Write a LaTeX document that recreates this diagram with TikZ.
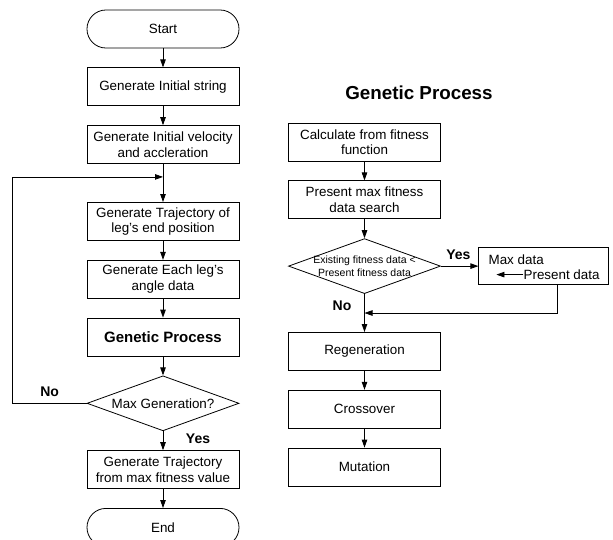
\documentclass[tikz,border=0pt]{standalone}
\usepackage{fontspec}
\setmainfont{Liberation Sans}
\usetikzlibrary{positioning,calc,arrows.meta,shapes,shapes.geometric}
\tikzset{fbox/.style={draw, line width=0.8pt, minimum width=152pt, minimum height=38pt, inner sep=2pt, align=center, font=\fontsize{13.4}{15.5}\selectfont}}
\tikzset{fterm/.style={fbox, rounded corners=18.9pt}}
\tikzset{fdec/.style={draw, line width=0.8pt, diamond, aspect=2.76, minimum width=152pt, minimum height=55pt, inner sep=0pt, align=center, font=\fontsize{13.4}{15.5}\selectfont}}
\tikzset{arr/.style={draw, line width=0.8pt, -{Triangle[length=8pt,width=5.5pt]}}}
\tikzset{lbl/.style={font=\fontsize{14}{16}\bfseries\selectfont, inner sep=0pt}}
\tikzset{txt/.style={font=\fontsize{13.4}{15.5}\selectfont, inner sep=0pt}}

\begin{document}
\begin{tikzpicture}[x=1pt, y=1pt, node distance=19pt]
\useasboundingbox (0,0) rectangle (613,-539);
% main loop
\node[fterm] (start) at (163,-29) {Start};
\node[fbox, below=of start] (initstr) {Generate Initial string};
\node[fbox, below=of initstr] (initvel) {Generate Initial velocity\\and accleration};
\node[fbox, below=38pt of initvel] (traj) {Generate Trajectory of\\leg's end position};
\node[fbox, below=of traj] (angle) {Generate Each leg's\\angle data};
\node[fbox, below=of angle, font=\fontsize{15}{17}\bfseries\selectfont] (gproc) {Genetic Process};
\node[fdec, below=of gproc] (maxgen) {Max Generation?};
\node[fbox, below=of maxgen] (best) {Generate Trajectory\\from max fitness value};
\node[fterm, below=of best] (fin) {End};
\coordinate (loopin) at ($(initvel.south)!0.34!(traj.north)$);
%
\draw[arr] (start) -- (initstr);
\draw[arr] (initstr) -- (initvel);
\draw[arr] (initvel) -- (traj);
\draw[arr] (traj) -- (angle);
\draw[arr] (angle) -- (gproc);
\draw[arr] (gproc) -- (maxgen);
\draw[arr] (maxgen) -- (best);
\draw[arr] (best) -- (fin);
\draw[arr] (maxgen.west) -- ++(-74pt,0) |- (loopin);
\node[lbl] (no1) at ($(maxgen.west)+(-37pt,12pt)$) {No};
\node[lbl] (yes1) at ($(maxgen.south)+(35pt,-8pt)$) {Yes};
% genetic process
\node[font=\fontsize{18.8}{21}\bfseries\selectfont] (gtitle) at (419,-93) {Genetic Process};
\node[fbox] (fitcalc) at (364.5,-142) {Calculate from fitness\\function};
\node[fbox, below=of fitcalc] (maxsearch) {Present max fitness\\data search};
\node[fdec, below=of maxsearch, inner sep=-3pt, font=\fontsize{10.5}{12.5}\selectfont] (cmp) {Existing fitness data <\\Present fitness data};
\node[fbox, below=38pt of cmp] (regen) {Regeneration};
\node[fbox, below=of regen] (cross) {Crossover};
\node[fbox, below=of cross] (mutat) {Mutation};
\node[draw, line width=0.8pt, minimum width=130pt, minimum height=37pt, right=37.5pt of cmp] (maxbox) {};
\node[txt, anchor=west] (maxtxt) at ($(maxbox.west)+(10pt,6pt)$) {Max data};
\node[txt, anchor=west] (presenttxt) at ($(maxbox.west)+(45pt,-8.5pt)$) {Present data};
\coordinate (maxin) at ($(presenttxt.west)+(-27pt,0)$);
\coordinate (mergein) at ($(cmp.south)!0.5!(regen.north)$);
%
\draw[arr] (fitcalc) -- (maxsearch);
\draw[arr] (maxsearch) -- (cmp);
\draw[arr] (cmp) -- (maxbox);
\draw[arr] (cmp) -- (regen);
\draw[arr] (regen) -- (cross);
\draw[arr] (cross) -- (mutat);
\draw[arr] (presenttxt.west) -- (maxin);
\draw[arr] ([xshift=14pt]maxbox.south) |- (mergein);
\node[lbl] (yes2) at ($(cmp.east)+(17.5pt,11.5pt)$) {Yes};
\node[lbl] (no2) at ($(cmp.south)+(-22.5pt,-12pt)$) {No};
\end{tikzpicture}
\end{document}
